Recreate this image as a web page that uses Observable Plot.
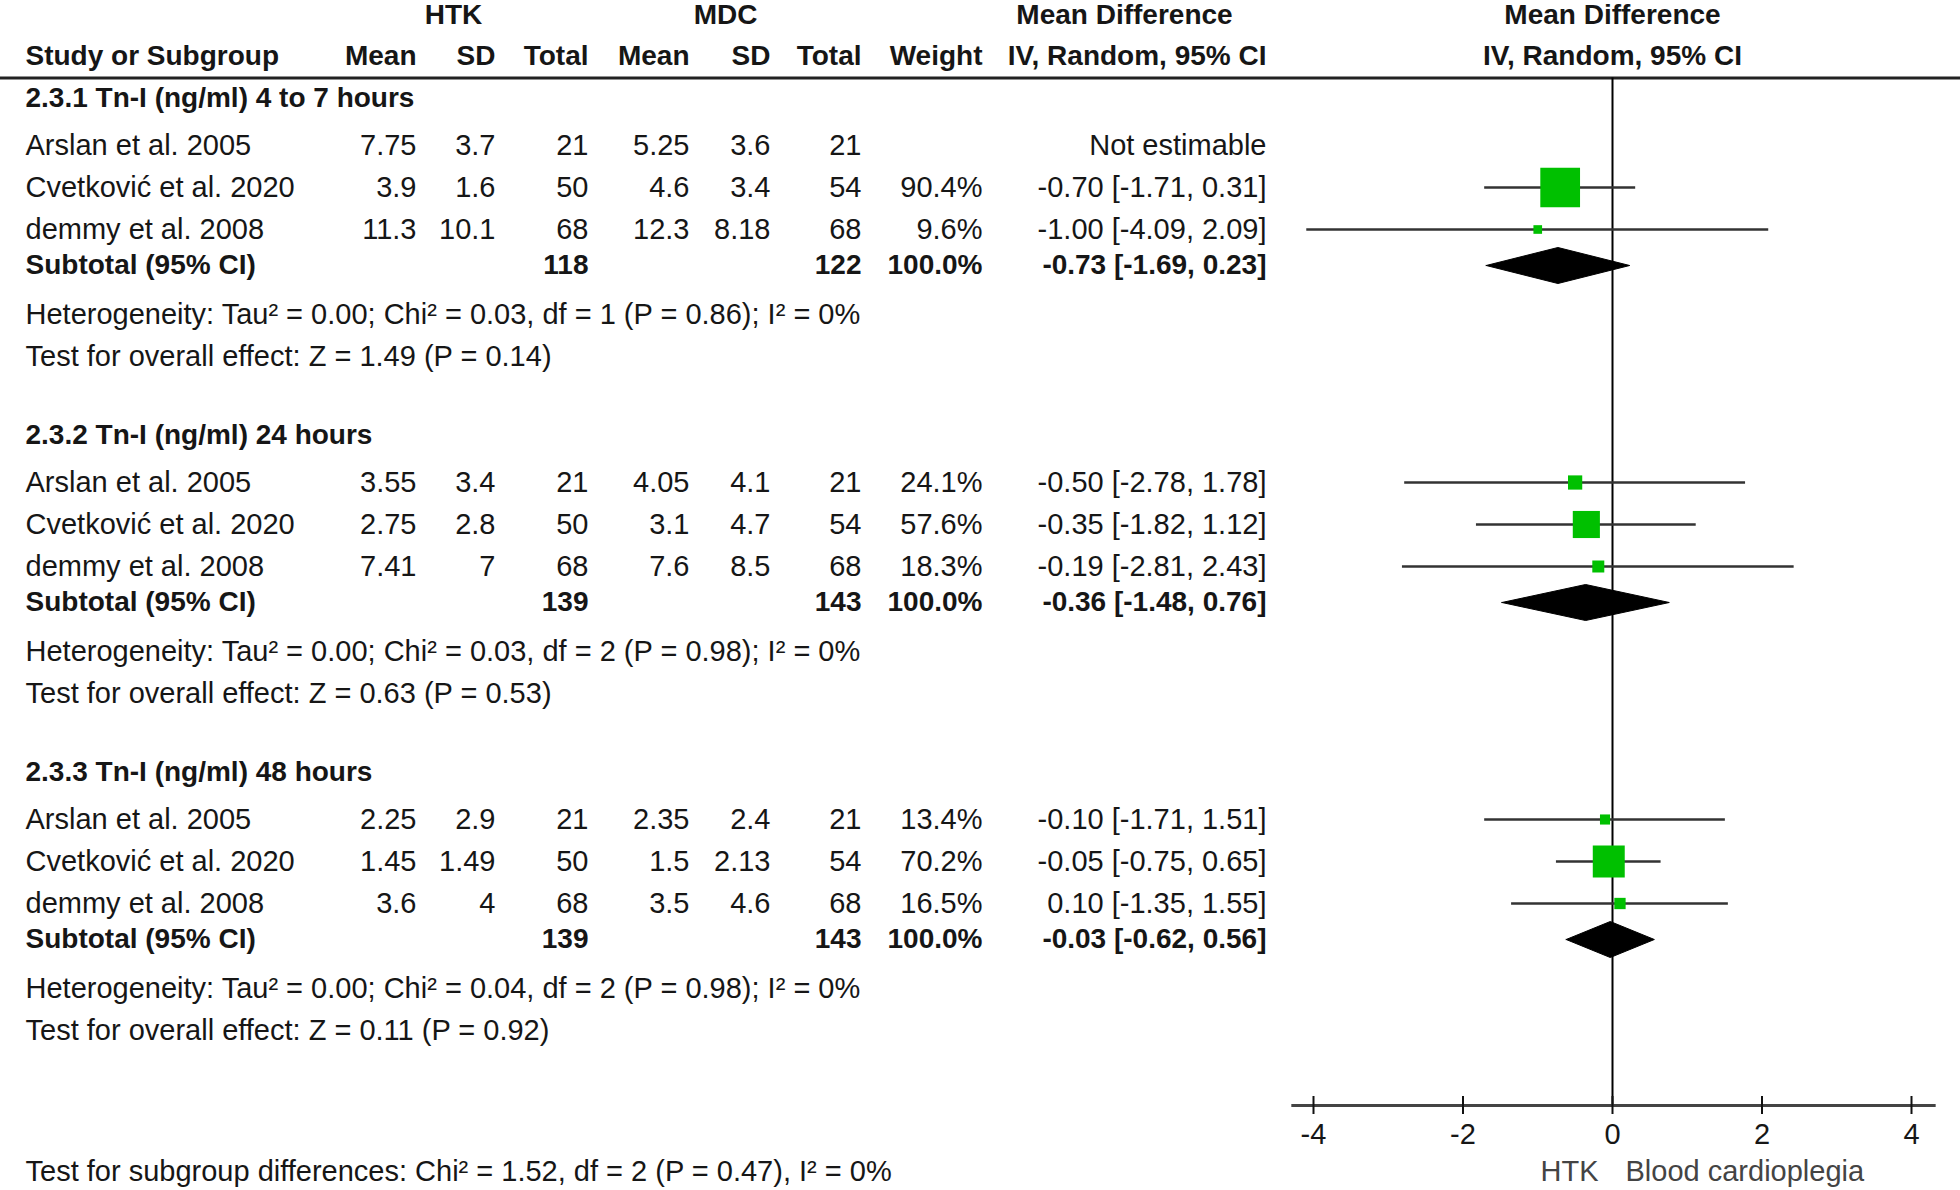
<!DOCTYPE html>
<html>
<head>
<meta charset="utf-8">
<script src="https://cdn.jsdelivr.net/npm/d3@7"></script>
<script src="https://cdn.jsdelivr.net/npm/@observablehq/plot@0.6"></script>
<style>
html, body { margin: 0; padding: 0; background: #fff; }
#chart svg { display: block; }
</style>
</head>
<body>
<div id="chart"></div>
<script>
// ---------------- DATA ----------------
const groups = [
  "2.3.1 Tn-I (ng/ml) 4 to 7 hours",
  "2.3.2 Tn-I (ng/ml) 24 hours",
  "2.3.3 Tn-I (ng/ml) 48 hours"
];
const studies = ["Arslan et al. 2005", "Cvetković et al. 2020", "demmy et al. 2008"];

const htkMean  = [[7.75, 3.9, 11.3], [3.55, 2.75, 7.41], [2.25, 1.45, 3.6]];
const htkSD    = [[3.7, 1.6, 10.1], [3.4, 2.8, 7], [2.9, 1.49, 4]];
const htkTotal = [[21, 50, 68], [21, 50, 68], [21, 50, 68]];
const mdcMean  = [[5.25, 4.6, 12.3], [4.05, 3.1, 7.6], [2.35, 1.5, 3.5]];
const mdcSD    = [[3.6, 3.4, 8.18], [4.1, 4.7, 8.5], [2.4, 2.13, 4.6]];
const mdcTotal = [[21, 54, 68], [21, 54, 68], [21, 54, 68]];
const weights  = [[null, 90.4, 9.6], [24.1, 57.6, 18.3], [13.4, 70.2, 16.5]];
const meanDiff = [[null, -0.70, -1.00], [-0.50, -0.35, -0.19], [-0.10, -0.05, 0.10]];
const ciLow    = [[null, -1.71, -4.09], [-2.78, -1.82, -2.81], [-1.71, -0.75, -1.35]];
const ciHigh   = [[null, 0.31, 2.09], [1.78, 1.12, 2.43], [1.51, 0.65, 1.55]];

const subHTK  = [118, 139, 139];
const subMDC  = [122, 143, 143];
const subMD   = [-0.73, -0.36, -0.03];
const subLow  = [-1.69, -1.48, -0.62];
const subHigh = [0.23, 0.76, 0.56];

const hetTexts = [
  "Heterogeneity: Tau² = 0.00; Chi² = 0.03, df = 1 (P = 0.86); I² = 0%",
  "Heterogeneity: Tau² = 0.00; Chi² = 0.03, df = 2 (P = 0.98); I² = 0%",
  "Heterogeneity: Tau² = 0.00; Chi² = 0.04, df = 2 (P = 0.98); I² = 0%"
];
const overallTexts = [
  "Test for overall effect: Z = 1.49 (P = 0.14)",
  "Test for overall effect: Z = 0.63 (P = 0.53)",
  "Test for overall effect: Z = 0.11 (P = 0.92)"
];
const subgroupText = "Test for subgroup differences: Chi² = 1.52, df = 2 (P = 0.47), I² = 0%";

const header1 = [
  {col: "htk", text: "HTK"},
  {col: "mdc", text: "MDC"},
  {col: "md", text: "Mean Difference"}
];
const header2 = [
  {col: "name", text: "Study or Subgroup"},
  {col: "m1", text: "Mean"}, {col: "s1", text: "SD"}, {col: "t1", text: "Total"},
  {col: "m2", text: "Mean"}, {col: "s2", text: "SD"}, {col: "t2", text: "Total"},
  {col: "w", text: "Weight"}, {col: "ci", text: "IV, Random, 95% CI"}
];
const forestTitle = ["Mean Difference", "IV, Random, 95% CI"];
const xTicks = [-4, -2, 0, 2, 4];
const favourLeft = "HTK";
const favourRight = "Blood cardioplegia";

// ---------------- LAYOUT / STYLE ----------------
const W = 1960, H = 1190;
const zeroPx = 1612, pxPerUnit = 74.75;
const xDomain = [-4.29, 4.33];
const L = {
  header1: 15, header2: 56, rule: 77.5, firstTitle: 98,
  titleToRow: 47, rowStep: 42, rowToSub: 36, subToHet: 49, hetToTest: 42, testToTitle: 79,
  axisY: 1105, tickLen: 9, tickLabelY: 1134, footY: 1171, diamondHalf: 18
};
const colX = {name: 25, m1: 416, s1: 495, t1: 588, m2: 689, s2: 770, t2: 861, w: 982, ci: 1266,
              htk: 453, mdc: 725, md: 1124};
const colAnchor = c => c === "name" ? "start" : (c === "htk" || c === "mdc" || c === "md") ? "middle" : "end";
const TXT = "#161616";
const FS = 29, FSB = 28;

// ---------------- BUILD TABLE ----------------
const fmtCI = (m, lo, hi) => `${m.toFixed(2)} [${lo.toFixed(2)}, ${hi.toFixed(2)}]`;
const cells = [];
const studyPts = [];
const subPts = [];
header1.forEach(h => cells.push({col: h.col, y: L.header1, text: h.text, bold: true}));
header2.forEach(h => cells.push({col: h.col, y: L.header2, text: h.text, bold: true}));

let y = L.firstTitle;
groups.forEach((gname, g) => {
  cells.push({col: "name", y, text: gname, bold: true});
  y += L.titleToRow;
  studies.forEach((s, i) => {
    if (i > 0) y += L.rowStep;
    const m = meanDiff[g][i];
    cells.push({col: "name", y, text: s});
    cells.push({col: "m1", y, text: String(htkMean[g][i])});
    cells.push({col: "s1", y, text: String(htkSD[g][i])});
    cells.push({col: "t1", y, text: String(htkTotal[g][i])});
    cells.push({col: "m2", y, text: String(mdcMean[g][i])});
    cells.push({col: "s2", y, text: String(mdcSD[g][i])});
    cells.push({col: "t2", y, text: String(mdcTotal[g][i])});
    cells.push({col: "w", y, text: weights[g][i] == null ? "" : weights[g][i].toFixed(1) + "%"});
    cells.push({col: "ci", y, text: m == null ? "Not estimable" : fmtCI(m, ciLow[g][i], ciHigh[g][i])});
    if (m != null) studyPts.push({y, md: m, lo: ciLow[g][i], hi: ciHigh[g][i], w: weights[g][i]});
  });
  y += L.rowToSub;
  cells.push({col: "name", y, text: "Subtotal (95% CI)", bold: true});
  cells.push({col: "t1", y, text: String(subHTK[g]), bold: true});
  cells.push({col: "t2", y, text: String(subMDC[g]), bold: true});
  cells.push({col: "w", y, text: "100.0%", bold: true});
  cells.push({col: "ci", y, text: fmtCI(subMD[g], subLow[g], subHigh[g]), bold: true});
  subPts.push({g, y, md: subMD[g], lo: subLow[g], hi: subHigh[g]});
  y += L.subToHet;
  cells.push({col: "name", y, text: hetTexts[g]});
  y += L.hetToTest;
  cells.push({col: "name", y, text: overallTexts[g]});
  y += L.testToTitle;
});
cells.push({col: "name", y: L.footY, text: subgroupText});

const diamondPts = subPts.flatMap(s => [
  {g: s.g, x: s.lo, y: s.y},
  {g: s.g, x: s.md, y: s.y - L.diamondHalf},
  {g: s.g, x: s.hi, y: s.y},
  {g: s.g, x: s.md, y: s.y + L.diamondHalf},
  {g: s.g, x: s.lo, y: s.y}
]);

// ---------------- MARKS ----------------
const textMarks = [];
Object.keys(colX).forEach(c => {
  [false, true].forEach(b => {
    const sub = cells.filter(d => d.col === c && !!d.bold === b && d.text !== "");
    if (!sub.length) return;
    textMarks.push(Plot.text(sub, {
      frameAnchor: "left", dx: colX[c], y: "y", text: "text",
      textAnchor: colAnchor(c), fontWeight: b ? "bold" : "normal",
      fontSize: b ? FSB : FS, fill: TXT
    }));
  });
});

const chart = Plot.plot({
  width: W, height: H,
  margin: 0,
  style: {fontFamily: "'Liberation Sans', Arial, sans-serif", background: "#fff", color: TXT},
  x: {domain: xDomain, range: [zeroPx + xDomain[0] * pxPerUnit, zeroPx + xDomain[1] * pxPerUnit], axis: null},
  y: {type: "identity", axis: null},
  r: {type: "linear", domain: [0, 100], range: [2.8, 24.5]},
  marks: [
    // header rule
    Plot.ruleY([L.rule], {y: d => d, stroke: "#222", strokeWidth: 3}),
    // zero line
    Plot.ruleX([0], {x: d => d, y1: L.rule, y2: L.axisY, stroke: "#000", strokeWidth: 2}),
    // CI lines
    Plot.ruleY(studyPts, {y: "y", x1: "lo", x2: "hi", stroke: "#333", strokeWidth: 2.6}),
    // squares
    Plot.dot(studyPts, {x: "md", y: "y", r: "w", symbol: "square", fill: "#00c000", stroke: null}),
    // diamonds
    Plot.line(diamondPts, {x: "x", y: "y", z: "g", fill: "#000", stroke: "#000", strokeWidth: 1}),
    // axis
    Plot.ruleY([L.axisY], {y: d => d, x1: xDomain[0], x2: xDomain[1], stroke: "#444", strokeWidth: 3}),
    Plot.ruleX(xTicks, {x: d => d, y1: L.axisY - L.tickLen, y2: L.axisY + L.tickLen, stroke: "#111", strokeWidth: 2}),
    Plot.text(xTicks, {x: d => d, y: L.tickLabelY, text: d => String(d), fontSize: FS, fill: TXT}),
    // forest titles
    Plot.text(forestTitle, {x: () => 0, y: (d, i) => i === 0 ? L.header1 : L.header2, text: d => d,
      fontWeight: "bold", fontSize: FSB, fill: TXT}),
    // favours labels
    Plot.text([favourLeft], {x: () => 0, y: L.footY, text: d => d, textAnchor: "end", dx: -14, fontSize: FS, fill: "#444"}),
    Plot.text([favourRight], {x: () => 0, y: L.footY, text: d => d, textAnchor: "start", dx: 13, fontSize: FS, fill: "#444"}),
    ...textMarks
  ]
});
document.getElementById("chart").appendChild(chart);
</script>
</body>
</html>
